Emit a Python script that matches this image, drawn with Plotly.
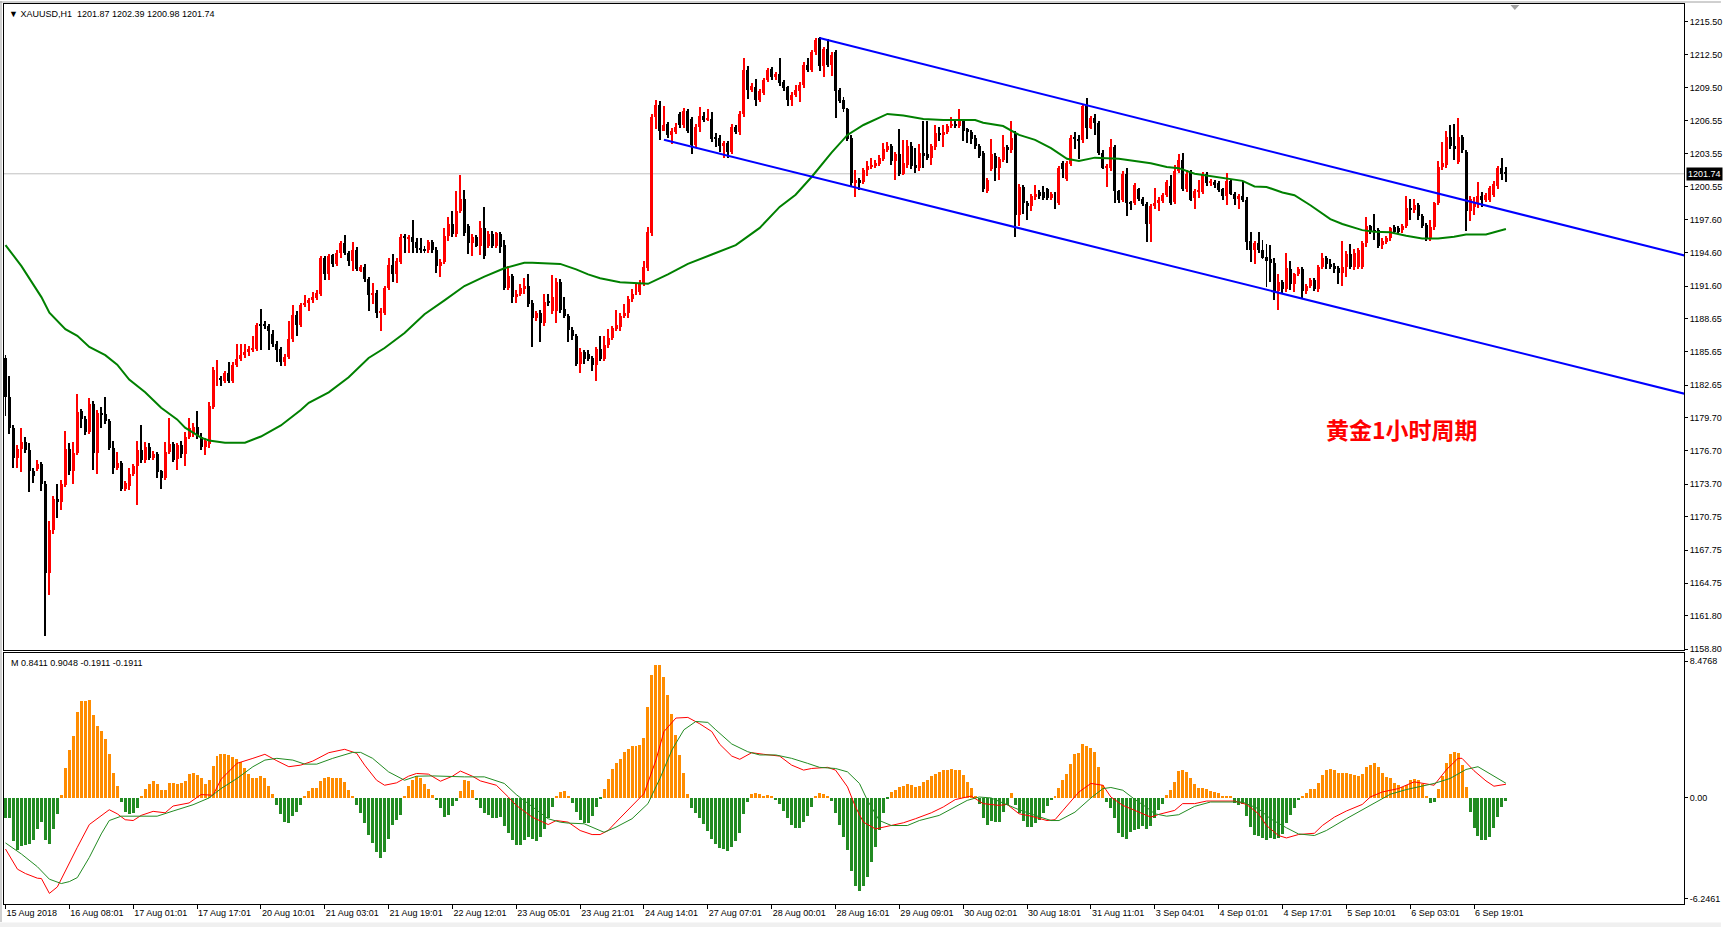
import plotly.graph_objects as go

# ---------------- data ----------------
symbol = "XAUUSD,H1"
note_text = "黄金1小时周期"

opens = [
1185.1,1181.6,1178.8,1176.1,1176.9,1177.5,1176.8,1174.9,1175.1,1175.5,
1173.7,1165.7,1169.6,1172.4,1172.1,1173.6,1176.9,1174.9,1176.5,1180.3,
1179.6,1178.4,1180.9,1176.5,1180.1,1180.0,1179.4,1177.0,1175.2,1175.6,
1173.3,1173.5,1174.6,1175.3,1176.8,1175.9,1177.1,1176.1,1176.4,1174.9,
1174.3,1176.6,1177.3,1176.0,1177.2,1176.4,1178.0,1178.3,1178.9,1178.0,
1177.1,1177.3,1180.7,1183.9,1183.3,1183.0,1183.7,1183.0,1184.5,1185.0,
1185.4,1185.6,1185.8,1185.9,1188.2,1188.1,1188.0,1187.3,1186.4,1185.9,
1184.7,1185.2,1186.8,1189.0,1188.1,1189.9,1190.1,1190.3,1190.5,1190.9,
1194.1,1192.7,1194.4,1193.6,1194.6,1195.5,1194.6,1193.9,1194.9,1193.0,
1193.3,1192.2,1190.8,1191.0,1189.2,1189.2,1191.4,1193.5,1192.7,1193.8,
1196.1,1195.9,1196.0,1195.6,1195.0,1194.9,1194.9,1195.6,1194.9,1193.4,
1193.8,1196.1,1197.2,1196.3,1198.4,1199.5,1197.0,1195.5,1196.0,1195.2,
1196.8,1195.2,1196.3,1195.2,1196.3,1195.3,1191.4,1192.5,1190.6,1190.9,
1191.3,1191.6,1190.1,1188.7,1189.2,1188.3,1190.2,1189.3,1189.3,1192.0,
1189.5,1188.9,1187.6,1187.1,1184.6,1185.6,1185.5,1185.1,1184.5,1185.9,
1185.05,1186.3,1186.9,1187.7,1187.9,1188.9,1189.15,1190.45,1190.9,1191.05,
1191.9,1193.2,1196.4,1206.9,1208.0,1205.65,1206.2,1205.2,1205.5,1207.1,
1206.15,1207.4,1206.7,1204.35,1206.0,1207.0,1206.6,1206.7,1205.0,1205.0,
1204.25,1204.5,1203.75,1206.0,1205.5,1207.1,1211.1,1209.3,1209.55,1208.4,
1209.05,1210.2,1211.25,1210.45,1210.8,1210.0,1209.55,1208.4,1208.9,1209.2,
1209.75,1211.55,1211.1,1212.7,1214.0,1211.45,1213.0,1211.55,1212.7,1209.3,
1208.4,1207.55,1205.0,1200.95,1201.2,1201.0,1202.05,1202.35,1202.45,1202.6,
1203.1,1203.85,1204.25,1202.9,1203.5,1201.75,1202.5,1204.25,1202.5,1202.25,
1203.6,1203.5,1203.2,1204.15,1205.45,1205.25,1205.5,1206.05,1206.25,1206.05,
1206.5,1205.75,1205.55,1205.0,1204.25,1203.6,1200.2,1202.2,1203.35,1202.25,
1203.0,1204.15,1203.85,1205.4,1198.05,1200.55,1199.1,1198.8,1199.6,1200.05,
1200.05,1200.35,1199.55,1199.95,1199.1,1202.7,1201.3,1202.6,1205.0,1204.9,
1204.75,1208.05,1205.85,1206.8,1206.35,1203.65,1202.25,1202.25,1204.15,1200.15,
1199.4,1201.7,1199.2,1199.1,1200.35,1199.5,1199.05,1197.2,1198.8,1199.1,
1199.3,1199.8,1200.65,1199.2,1201.95,1203.0,1200.35,1201.95,1199.55,1200.05,
1200.05,1201.7,1200.95,1201.0,1200.95,1200.35,1199.7,1201.1,1199.95,1199.5,
1199.7,1199.4,1195.7,1194.85,1195.5,1194.85,1194.25,1194.0,1193.7,1191.15,
1191.95,1191.3,1193.1,1191.8,1192.65,1193.1,1191.15,1191.6,1192.1,1191.3,
1193.35,1194.15,1193.6,1193.4,1193.2,1192.75,1193.35,1194.45,1193.35,1193.35,
1193.35,1195.5,1197.0,1196.65,1196.65,1195.3,1195.6,1195.9,1196.9,1196.85,
1196.65,1197.0,1198.65,1198.45,1198.9,1197.95,1197.15,1195.9,1196.9,1199.1,
1202.35,1202.55,1205.1,1204.25,1202.85,1205.1,1203.75,1198.35,1198.75,1199.1,
1199.7,1199.4,1199.4,1199.85,1200.65,1202.25,1201.87]

highs = [
1185.4,1183.5,1179.0,1177.2,1178.8,1178.0,1177.4,1175.2,1175.9,1175.7,
1174.0,1170.4,1172.6,1173.7,1174.1,1178.5,1177.4,1177.5,1181.8,1180.5,
1179.9,1181.5,1181.2,1180.4,1180.7,1181.6,1179.6,1177.6,1176.6,1175.8,
1174.0,1175.2,1175.5,1177.6,1179.0,1177.5,1177.4,1176.7,1176.6,1175.0,
1177.5,1179.7,1177.5,1177.4,1177.6,1178.4,1179.7,1179.2,1180.3,1178.3,
1177.9,1181.1,1184.3,1184.9,1183.5,1183.9,1184.7,1184.7,1186.4,1186.4,
1186.4,1186.2,1187.1,1188.3,1189.5,1188.4,1188.2,1187.6,1186.6,1186.1,
1185.5,1188.4,1189.9,1189.3,1190.1,1190.8,1190.5,1191.1,1191.2,1194.3,
1194.3,1194.5,1194.5,1194.9,1195.7,1196.2,1194.8,1195.6,1195.1,1193.5,
1193.6,1192.4,1191.9,1191.2,1189.6,1191.6,1194.1,1194.5,1194.1,1196.3,
1196.3,1196.2,1197.6,1195.9,1195.9,1195.2,1195.8,1195.8,1195.1,1194.0,
1196.8,1197.8,1198.4,1200.2,1201.6,1200.3,1197.2,1196.3,1196.2,1197.5,
1198.7,1196.6,1196.6,1196.5,1196.5,1195.8,1193.4,1192.7,1191.2,1191.8,
1192.3,1192.7,1190.3,1189.3,1189.4,1190.9,1190.9,1192.6,1192.3,1192.2,
1190.6,1189.1,1187.9,1187.3,1186.0,1185.8,1185.8,1185.3,1186.1,1187.1,
1187.1,1187.7,1188.0,1189.4,1189.2,1190.0,1190.7,1191.3,1191.9,1192.1,
1193.9,1196.9,1207.1,1208.4,1208.3,1207.85,1206.4,1205.9,1206.3,1207.3,
1207.65,1207.55,1206.9,1206.2,1207.8,1207.3,1207.55,1207.3,1205.4,1205.2,
1204.7,1204.7,1206.2,1206.15,1207.4,1212.2,1211.45,1209.9,1210.3,1209.4,
1210.4,1211.3,1211.35,1210.95,1212.2,1210.2,1209.7,1209.1,1209.75,1210.0,
1211.8,1212.2,1212.9,1214.0,1214.1,1213.2,1213.9,1212.7,1212.9,1209.5,
1208.7,1207.7,1205.2,1202.1,1201.4,1202.3,1202.9,1203.2,1203.0,1203.4,
1204.5,1204.6,1204.4,1203.7,1205.75,1204.8,1204.8,1204.6,1204.1,1204.4,
1206.5,1206.5,1204.4,1206.15,1206.0,1206.15,1206.2,1206.9,1206.5,1207.55,
1206.7,1205.9,1205.7,1205.2,1204.4,1203.8,1201.4,1204.9,1203.6,1203.3,
1205.25,1204.3,1206.5,1205.6,1200.8,1200.7,1199.3,1199.9,1200.7,1200.3,
1200.65,1200.45,1200.1,1200.1,1202.4,1202.9,1202.9,1205.2,1205.5,1205.25,
1208.0,1208.55,1207.0,1207.15,1206.5,1203.9,1202.6,1204.9,1204.3,1200.3,
1201.95,1202.25,1199.3,1200.9,1200.5,1199.6,1199.2,1199.0,1200.45,1199.6,
1200.0,1201.2,1201.6,1202.55,1203.5,1203.6,1202.05,1202.1,1200.4,1201.2,
1201.9,1201.9,1201.3,1201.2,1201.1,1200.5,1201.8,1201.3,1200.1,1199.9,
1201.1,1199.6,1196.5,1195.7,1196.45,1195.75,1195.4,1195.3,1194.15,1192.65,
1192.1,1194.55,1193.85,1192.8,1193.35,1193.3,1191.8,1192.3,1192.3,1193.5,
1194.55,1194.35,1194.0,1193.7,1193.4,1195.7,1194.75,1195.4,1194.95,1195.0,
1195.7,1197.8,1197.15,1198.15,1196.8,1195.9,1196.1,1196.95,1197.1,1197.0,
1197.2,1199.7,1199.5,1199.5,1199.1,1198.1,1197.3,1197.6,1199.2,1202.9,
1204.6,1205.65,1206.15,1206.25,1206.8,1205.2,1203.9,1199.7,1199.6,1201.0,
1200.05,1200.0,1200.65,1201.1,1202.4,1203.2,1202.39]

lows = [
1179.9,1178.2,1175.2,1175.2,1174.8,1176.5,1173.0,1173.8,1174.9,1173.1,
1160.0,1163.7,1169.2,1170.6,1171.4,1173.4,1174.5,1173.7,1176.3,1178.8,
1178.1,1178.2,1175.0,1174.6,1178.8,1179.1,1176.8,1174.6,1175.0,1173.1,
1173.1,1173.2,1174.4,1171.8,1175.6,1175.6,1175.9,1175.9,1174.3,1173.3,
1174.1,1176.4,1175.7,1175.0,1176.1,1175.3,1177.8,1178.0,1177.8,1176.8,
1176.3,1177.0,1180.5,1182.6,1182.6,1182.8,1182.8,1182.8,1184.3,1184.8,
1185.1,1185.3,1185.6,1185.7,1185.8,1187.7,1185.8,1186.1,1184.7,1184.4,
1184.4,1185.0,1186.5,1187.1,1187.9,1189.7,1189.3,1190.1,1190.3,1190.7,
1192.1,1192.1,1193.3,1193.4,1194.1,1194.4,1193.4,1193.0,1193.0,1192.9,
1192.0,1189.3,1190.0,1188.7,1187.5,1189.0,1191.2,1192.0,1191.9,1193.6,
1194.6,1194.6,1194.6,1194.6,1194.6,1194.6,1194.6,1194.6,1192.8,1192.4,
1193.6,1195.7,1196.0,1196.0,1198.2,1196.1,1194.5,1194.3,1195.1,1194.4,
1194.0,1195.0,1195.0,1195.0,1194.6,1191.2,1191.2,1190.1,1190.1,1190.7,
1190.9,1189.7,1186.1,1188.4,1186.5,1188.0,1189.8,1189.1,1188.3,1189.2,
1188.7,1186.5,1186.7,1184.4,1183.7,1184.6,1184.8,1183.9,1183.0,1184.8,
1184.8,1186.0,1186.7,1187.5,1187.5,1188.7,1188.7,1190.2,1190.8,1190.8,
1191.6,1193.0,1196.1,1205.8,1204.8,1205.6,1205.0,1204.4,1205.3,1205.9,
1205.9,1205.4,1203.5,1204.1,1205.5,1206.4,1206.5,1204.6,1204.2,1203.75,
1203.2,1203.2,1203.5,1205.3,1205.2,1206.9,1208.5,1209.1,1207.9,1208.2,
1208.9,1210.0,1210.2,1210.2,1209.7,1209.2,1207.9,1207.9,1208.7,1208.2,
1209.5,1210.9,1210.9,1212.5,1211.0,1210.5,1211.4,1210.6,1206.8,1208.1,
1207.3,1204.7,1200.6,1199.6,1200.25,1200.8,1201.5,1202.2,1202.3,1202.4,
1202.9,1203.7,1202.5,1201.2,1201.5,1201.6,1202.3,1202.2,1201.85,1202.0,
1202.25,1203.0,1202.5,1203.9,1204.7,1204.15,1205.3,1205.9,1205.85,1205.9,
1204.7,1204.5,1204.45,1203.95,1203.2,1200.05,1200.0,1202.0,1201.1,1201.2,
1202.8,1202.7,1203.6,1196.05,1197.0,1198.15,1197.6,1198.4,1199.4,1199.5,
1199.4,1199.4,1199.4,1198.55,1198.9,1201.4,1201.1,1202.4,1203.95,1203.1,
1204.5,1204.9,1205.75,1205.25,1203.4,1202.15,1200.55,1202.0,1199.1,1199.1,
1199.2,1197.9,1198.45,1198.9,1199.3,1198.8,1195.6,1195.6,1198.6,1198.35,
1199.1,1199.6,1198.9,1199.0,1201.8,1200.15,1200.1,1199.3,1198.55,1199.55,
1199.9,1200.65,1200.65,1200.5,1200.05,1199.4,1198.9,1199.8,1198.9,1198.55,
1199.2,1194.85,1193.8,1193.6,1194.6,1194.0,1191.5,1191.95,1190.3,1189.4,
1190.95,1191.1,1191.2,1191.1,1192.5,1190.55,1190.9,1191.4,1191.15,1191.1,
1193.1,1193.1,1193.1,1192.75,1191.8,1191.6,1192.45,1193.1,1193.05,1193.1,
1193.1,1195.1,1196.3,1195.75,1195.0,1194.95,1195.4,1195.7,1196.3,1196.3,
1196.4,1196.8,1197.6,1198.2,1197.6,1196.8,1195.7,1195.7,1196.7,1198.9,
1202.1,1202.3,1204.0,1203.0,1202.6,1203.6,1196.55,1197.5,1198.05,1198.65,
1198.75,1199.2,1199.2,1199.6,1200.4,1201.2,1200.98]

closes = [
1181.6,1178.8,1176.1,1176.9,1177.5,1176.8,1174.9,1174.4,1175.5,1173.7,
1165.7,1169.6,1172.4,1172.1,1173.7,1176.9,1174.9,1176.5,1180.2,1179.6,
1178.4,1180.9,1176.5,1180.1,1180.0,1179.4,1177.0,1175.2,1175.6,1173.3,
1173.8,1174.6,1175.3,1176.8,1175.9,1177.1,1176.1,1176.4,1174.8,1174.3,
1176.6,1177.3,1175.9,1177.2,1176.4,1178.0,1178.8,1178.9,1178.0,1177.1,
1177.6,1180.8,1184.0,1184.0,1183.1,1183.7,1183.0,1184.5,1185.0,1185.4,
1185.6,1185.9,1186.0,1188.1,1188.0,1188.0,1187.5,1186.4,1185.8,1184.7,
1185.2,1186.8,1189.0,1188.1,1189.9,1190.1,1190.3,1190.6,1191.0,1194.1,
1192.7,1194.3,1193.6,1194.6,1195.5,1194.6,1193.9,1194.9,1193.1,1193.3,
1192.2,1190.8,1191.0,1189.2,1189.3,1191.4,1193.5,1192.7,1193.9,1196.0,
1195.9,1196.0,1195.6,1195.0,1194.9,1194.85,1195.6,1194.9,1193.4,1193.8,
1196.1,1197.2,1196.3,1198.4,1199.5,1196.4,1195.5,1196.0,1195.2,1196.8,
1194.3,1196.3,1195.2,1196.4,1195.1,1191.4,1192.5,1190.6,1190.9,1191.4,
1191.6,1190.0,1188.7,1189.2,1188.3,1190.2,1190.1,1190.6,1192.0,1189.4,
1188.9,1187.6,1187.1,1184.6,1185.6,1185.0,1185.05,1184.5,1185.9,1185.05,
1186.3,1186.9,1187.8,1188.1,1188.9,1189.2,1190.45,1190.9,1191.1,1191.9,
1193.3,1196.45,1206.9,1208.0,1205.65,1206.15,1205.2,1205.65,1206.0,1206.15,
1207.4,1205.65,1204.35,1206.0,1207.0,1206.6,1206.7,1204.9,1204.9,1204.25,
1204.5,1203.75,1206.0,1205.5,1207.15,1211.1,1209.3,1209.65,1208.4,1209.2,
1210.2,1211.1,1210.45,1210.8,1209.95,1209.45,1208.4,1208.9,1209.35,1209.8,
1211.55,1211.1,1212.7,1213.85,1211.45,1213.0,1211.55,1212.5,1209.2,1208.3,
1207.55,1204.9,1200.95,1201.2,1200.95,1202.05,1202.45,1202.55,1202.7,1203.2,
1203.95,1204.25,1202.9,1203.5,1201.75,1202.7,1204.25,1202.45,1202.25,1203.65,
1203.35,1203.2,1204.25,1205.45,1205.2,1205.55,1206.05,1206.25,1206.05,1206.5,
1205.65,1205.55,1204.9,1204.25,1203.35,1200.35,1201.2,1203.5,1202.25,1203.1,
1204.15,1203.85,1205.0,1198.05,1200.55,1199.1,1198.8,1199.7,1199.95,1199.7,
1199.55,1199.55,1199.95,1199.1,1202.25,1202.15,1202.7,1205.0,1204.9,1204.75,
1207.85,1205.85,1206.8,1206.35,1203.6,1202.25,1202.45,1204.15,1200.15,1199.4,
1201.7,1199.1,1199.1,1200.7,1199.5,1199.05,1197.2,1198.8,1199.1,1199.4,
1199.8,1201.0,1199.1,1201.95,1203.0,1200.35,1201.75,1199.4,1200.15,1200.25,
1201.7,1200.95,1201.1,1200.7,1200.25,1199.7,1201.1,1199.95,1199.5,1199.7,
1199.4,1195.6,1194.85,1195.5,1194.85,1194.15,1193.85,1193.7,1191.15,1191.95,
1191.3,1193.2,1191.8,1192.65,1193.1,1191.15,1191.6,1192.1,1191.3,1193.35,
1194.1,1193.6,1193.35,1193.1,1192.75,1193.35,1194.45,1193.35,1194.55,1194.85,
1195.5,1197.0,1196.5,1196.5,1195.25,1195.7,1195.9,1196.85,1196.5,1196.5,
1197.0,1198.65,1198.45,1198.9,1197.95,1197.0,1195.9,1196.9,1199.1,1202.35,
1202.7,1205.1,1204.25,1204.0,1205.1,1203.85,1198.35,1199.5,1199.2,1199.7,
1199.4,1199.8,1200.45,1200.8,1202.25,1201.75,1201.74]

# moving average (green line), sampled along the bars
ma_bar = [0,4,9,11,15,18,21,25,28,31,35,39,43,45,49,51,55,60,64,69,74,76,81,86,91,95,100,105,110,115,
          120,125,130,132,139,143,146,149,154,159,161,166,171,177,183,189,194,198,202,207,211,215,219,221,225,
          230,235,243,245,250,254,258,262,266,269,273,279,283,287,291,294,298,304,310,313,316,320,323,327,332,
          335,340,343,347,351,355,359,363,366,371,376]
ma_val = [1195.3,1193.4,1190.6,1189.2,1187.7,1187.1,1186.1,1185.35,1184.5,1183.15,1182.0,1180.6,1179.55,1178.8,
          1177.9,1177.65,1177.45,1177.45,1178.0,1179.0,1180.4,1181.05,1182.0,1183.35,1185.1,1186.0,1187.35,1189.05,
          1190.3,1191.6,1192.45,1193.2,1193.7,1193.7,1193.6,1193.1,1192.65,1192.3,1191.95,1191.8,1191.8,1192.65,
          1193.6,1194.45,1195.3,1196.85,1198.75,1199.85,1201.45,1203.65,1205.25,1206.15,1206.8,1207.15,1207.0,
          1206.7,1206.6,1206.6,1206.35,1206.05,1205.25,1204.8,1204.05,1203.1,1202.9,1203.2,1203.1,1202.9,1202.7,
          1202.35,1202.25,1201.75,1201.4,1201.1,1200.6,1200.55,1200.05,1199.8,1198.9,1197.65,1197.2,1196.65,
          1196.5,1196.45,1196.15,1195.9,1195.9,1196.05,1196.25,1196.25,1196.75]

# channel trend lines: (bar, price) anchors
upper_line_bar = [204, 420.75]
upper_line_price = [1214.0, 1194.36]
lower_line_bar = [165, 420.75]
lower_line_price = [1204.81, 1181.87]

# oscillator histogram (one value per bar)
osc_hist = [
-1.26,-1.3,-2.7,-3.24,-3.03,-2.97,-2.86,-2.61,-1.93,-1.51,-2.65,-2.86,-1.93,-1.05,
0.14,1.86,2.93,3.84,5.30,5.99,5.99,6.05,5.11,4.47,4.11,3.66,2.72,1.51,0.72,
-0.26,-0.89,-1.05,-0.99,-0.68,
0.05,0.53,0.84,1.03,0.82,0.47,0.47,0.93,0.93,0.84,0.93,1.05,1.43,1.51,1.40,1.22,0.82,1.09,1.93,2.59,
2.70,2.70,2.64,2.49,2.39,2.18,1.82,1.47,1.24,1.24,1.34,1.24,0.72,0.22,
-0.47,-1.05,-1.51,-1.57,-1.16,-0.89,-0.47,
0.05,0.41,0.57,0.61,1.03,1.20,1.26,1.24,1.20,1.20,0.99,0.47,0.11,
-0.47,-0.99,-1.61,-2.30,-2.82,-3.39,-3.74,-3.39,-2.55,-1.68,-1.40,-1.09,
0.05,0.72,1.09,1.34,1.20,0.82,0.51,0.16,
-0.16,-0.68,-1.20,-1.09,-0.53,-0.20,
0.41,1.09,1.03,0.47,
-0.16,-0.68,-0.93,-1.09,-1.24,-1.30,-1.20,-1.76,-2.20,-2.61,-2.93,-2.93,-2.61,-2.45,-2.55,-2.70,-2.45,-1.93,-1.26,-0.57,
0.05,0.36,0.41,0.11,
-0.32,-0.89,
-1.40,-1.61,-1.57,-1.14,-0.61,-0.11,
0.53,1.14,1.78,2.14,2.41,2.80,3.03,3.18,3.22,3.28,3.70,5.64,7.59,8.24,8.24,7.45,6.36,5.16,3.91,2.66,1.51,0.22,
-0.68,-0.99,-1.24,-1.66,-2.07,-2.55,-2.86,-3.11,-3.20,-3.32,-3.07,-2.72,-2.20,-1.03,-0.26,
0.22,0.30,0.20,0.11,0.16,0.05,
-0.16,-0.41,-0.82,-1.30,-1.72,-1.86,-1.89,-1.51,-1.14,-0.57,
0.11,0.30,0.20,0.09,
-0.20,-0.95,-1.72,-2.45,-3.28,-4.53,-5.47,-5.82,-5.47,-4.91,-4.01,-3.07,-2.03,-0.99,-0.09,
0.36,0.47,0.64,0.72,0.84,0.78,0.68,0.72,0.99,1.09,1.34,1.45,1.57,1.68,1.72,1.76,1.72,1.68,1.41,0.99,0.61,0.11,
-0.41,-1.26,-1.72,-1.45,-1.51,-1.51,-0.89,-0.47,
0.30,
-0.47,-0.99,-1.47,-1.82,-1.82,-1.61,-1.41,-0.93,-0.51,-0.16,
0.05,0.61,1.09,1.47,2.07,2.70,2.76,3.32,3.18,3.07,2.80,1.89,0.78,
-0.26,-0.68,-1.30,-2.20,-2.45,-2.55,-2.14,-2.03,
-1.93,-1.76,-1.93,-1.78,-1.30,-0.78,-0.41,
0.16,0.47,0.99,1.66,1.72,1.61,1.24,0.82,0.61,0.61,0.51,0.43,0.32,0.26,0.11,0.11,0.05,
-0.36,-0.47,-0.41,-1.14,-1.82,-2.34,-2.41,-2.49,-2.61,-2.49,-2.55,-2.49,-2.24,-1.57,-1.09,-0.68,-0.16,
0.09,0.26,0.51,0.53,0.89,1.41,1.68,1.76,1.68,1.55,1.55,1.55,1.47,1.41,1.34,1.45,1.89,2.03,2.14,1.89,
1.55,1.26,1.20,0.93,0.78,0.68,0.78,1.09,1.14,1.09,0.84,0.11,
-0.32,-0.26,
0.51,1.34,2.14,2.70,2.82,2.76,2.03,0.68,
-0.89,-1.89,-2.41,-2.61,-2.61,-2.45,-1.89,-1.20,-0.57,-0.1911]

# oscillator signal lines (red and green), sampled along the bars
red_bar = [0,3,5,8,9,11,13,15,18,21,23,26,28,30,32,34,37,40,42,46,49,52,54,58,62,65,68,71,74,77,81,85,88,90,93,95,98,
           101,103,106,109,112,114,117,119,123,126,128,132,136,138,141,144,147,149,151,153,156,160,163,165,168,171,
           174,177,179,182,184,187,190,194,197,200,202,206,208,211,213,215,218,221,225,228,232,235,238,242,245,249,
           251,254,257,261,263,265,269,272,275,277,280,283,287,289,293,295,298,301,304,308,311,314,316,319,321,324,
           328,330,333,336,340,342,345,349,353,356,358,361,364,365,368,371,373,376]
red_val = [-3.18,-4.43,-4.70,-4.99,-5.01,-5.93,-5.53,-4.53,-3.07,-1.66,-1.30,-0.74,-0.99,-1.36,-1.41,-1.09,-0.84,-0.93,
           -0.51,-0.32,0.20,0.16,1.14,2.14,2.45,2.70,2.30,1.93,2.03,2.28,2.80,3.01,2.76,2.03,1.09,0.78,0.93,1.34,1.51,
           1.47,1.03,1.34,1.66,1.34,1.05,0.78,0.05,-0.47,-1.20,-1.66,-1.41,-1.51,-2.03,-2.28,-2.28,-2.03,-1.51,-0.74,
           0.26,2.34,4.11,4.95,4.99,4.59,4.11,3.32,2.59,2.39,2.80,2.70,2.59,2.03,1.72,1.82,1.89,1.72,0.68,-0.57,-1.51,
           -1.93,-1.78,-1.55,-1.30,-0.93,-0.57,-0.11,0.11,-0.36,-0.47,-0.41,-0.99,-1.14,-1.41,-1.36,-0.78,0.36,0.89,
           0.78,0.05,-0.47,-0.78,-1.20,-1.03,-0.78,-0.36,-0.36,-0.20,-0.20,-0.20,-0.41,-0.99,-1.72,-2.34,-2.49,-2.28,
           -2.20,-1.72,-1.20,-0.82,-0.41,0.05,0.36,0.57,0.99,0.89,0.78,1.72,2.45,2.45,1.68,1.05,0.72,0.8411]
grn_bar = [0,4,8,11,14,16,18,21,24,26,29,32,38,42,47,51,54,58,62,65,68,72,75,78,82,87,89,92,96,100,103,107,112,115,
           120,125,128,132,136,139,141,145,150,153,157,161,164,167,170,173,176,178,182,186,189,193,197,201,204,208,
           211,214,216,219,222,226,229,234,238,241,244,247,251,254,258,262,264,268,272,275,277,280,283,286,288,291,
           294,298,302,306,310,314,317,321,324,328,331,336,340,344,347,351,355,358,362,366,369,372,376]
grn_val = [-2.80,-3.49,-4.28,-5.05,-5.32,-5.20,-4.95,-3.70,-2.24,-1.41,-1.14,-1.14,-1.14,-0.82,-0.43,-0.01,0.57,1.20,
           1.93,2.34,2.45,2.34,2.09,2.09,2.45,2.82,2.82,2.45,1.61,1.09,1.34,1.36,1.30,1.30,1.30,0.89,0.20,-0.57,-1.30,
           -1.51,-1.57,-1.61,-2.14,-1.82,-1.30,-0.36,1.20,2.97,4.22,4.74,4.68,4.22,3.34,2.86,2.66,2.66,2.45,2.14,1.89,
           1.82,1.61,0.89,-0.16,-1.41,-1.72,-1.72,-1.41,-1.09,-0.57,-0.16,0.05,-0.01,-0.43,-0.74,-1.09,-1.41,-1.41,
           -0.89,-0.01,0.57,0.64,0.47,-0.10,-0.60,-0.99,-1.14,-1.05,-0.53,-0.26,-0.26,-0.26,-0.68,-1.30,-1.86,-2.24,
           -2.34,-2.03,-1.30,-0.74,-0.16,0.22,0.51,0.72,0.89,1.20,1.76,1.93,1.51,0.9048]

# axis labels
time_labels = ["15 Aug 2018", "16 Aug 08:01", "17 Aug 01:01", "17 Aug 17:01", "20 Aug 10:01", "21 Aug 03:01",
               "21 Aug 19:01", "22 Aug 12:01", "23 Aug 05:01", "23 Aug 21:01", "24 Aug 14:01", "27 Aug 07:01",
               "28 Aug 00:01", "28 Aug 16:01", "29 Aug 09:01", "30 Aug 02:01", "30 Aug 18:01", "31 Aug 11:01",
               "3 Sep 04:01", "4 Sep 01:01", "4 Sep 17:01", "5 Sep 10:01", "6 Sep 03:01", "6 Sep 19:01"]
time_label_step = 16
price_ticks = [1215.50, 1212.50, 1209.50, 1206.55, 1203.55, 1200.55, 1197.60, 1194.60, 1191.60, 1188.65,
               1185.65, 1182.65, 1179.70, 1176.70, 1173.70, 1170.75, 1167.75, 1164.75, 1161.80, 1158.80]
osc_max_label = 8.4768
osc_min_label = -6.2461

# ---------------- figure ----------------
n = len(closes)
assert len(opens) == n and len(highs) == n and len(lows) == n and len(osc_hist) == n
idx = list(range(n))

BULL, BEAR = "#FF0000", "#000000"
cand_col = [BULL if c >= o else BEAR for o, c in zip(opens, closes)]
body_base = [min(o, c) for o, c in zip(opens, closes)]
body_len = [max(abs(c - o), 0.09) for o, c in zip(opens, closes)]
wick_len = [h - l for h, l in zip(highs, lows)]

fig = go.Figure()
fig.add_trace(go.Bar(x=idx, y=wick_len, base=lows, width=0.25,
                     marker=dict(color=cand_col, line=dict(width=0)), xaxis="x", yaxis="y"))
fig.add_trace(go.Bar(x=idx, y=body_len, base=body_base, width=0.75,
                     marker=dict(color=cand_col, line=dict(width=0)), xaxis="x", yaxis="y"))
fig.add_trace(go.Scatter(x=ma_bar, y=ma_val, mode="lines", line=dict(color="#008000", width=2),
                         xaxis="x", yaxis="y"))
fig.add_trace(go.Scatter(x=upper_line_bar, y=upper_line_price, mode="lines",
                         line=dict(color="#0000FF", width=2), xaxis="x", yaxis="y"))
fig.add_trace(go.Scatter(x=lower_line_bar, y=lower_line_price, mode="lines",
                         line=dict(color="#0000FF", width=2), xaxis="x", yaxis="y"))

hist_col = ["#FF8C00" if v >= 0 else "#228B22" for v in osc_hist]
fig.add_trace(go.Bar(x=idx, y=osc_hist, width=0.75, marker=dict(color=hist_col, line=dict(width=0)),
                     xaxis="x2", yaxis="y2"))
fig.add_trace(go.Scatter(x=red_bar, y=red_val, mode="lines", line=dict(color="#FF0000", width=1),
                         xaxis="x2", yaxis="y2"))
fig.add_trace(go.Scatter(x=grn_bar, y=grn_val, mode="lines", line=dict(color="#228B22", width=1),
                         xaxis="x2", yaxis="y2"))

W, H = 1725, 927
ML, MR, MT, MB = 4, 37, 3, 23
PW, PH = W - ML - MR, H - MT - MB
main_bottom_px, sub_top_px = 650, 653
dom_main = [(H - MB - main_bottom_px) / PH, 1.0]
dom_sub = [0.0, (H - MB - sub_top_px) / PH]


def px_x(p):  # pixel column -> paper x
    return (p - ML) / PW


def px_y(p):  # pixel row -> paper y
    return (H - MB - p) / PH


tick_font = dict(family="Liberation Sans, Arial, sans-serif", size=9, color="black")
xr = [-0.375, 420.625]

fig.update_layout(
    width=W, height=H, margin=dict(l=ML, r=MR, t=MT, b=MB),
    paper_bgcolor="white", plot_bgcolor="white", showlegend=False, hovermode=False,
    barmode="overlay", bargap=0,
    xaxis=dict(domain=[0, 1], range=xr, anchor="y", showticklabels=False, ticks="",
               showgrid=False, zeroline=False, showline=True, mirror=True, linecolor="black", linewidth=1),
    yaxis=dict(domain=dom_main, range=[1158.69, 1217.08], side="right", anchor="x",
               tickvals=price_ticks, ticktext=["%.2f" % v for v in price_ticks],
               ticks="outside", ticklen=3, tickcolor="black", tickfont=tick_font,
               showgrid=False, zeroline=False, showline=True, mirror=True, linecolor="black", linewidth=1),
    xaxis2=dict(domain=[0, 1], range=xr, anchor="y2", matches="x",
                tickvals=[k * time_label_step for k in range(len(time_labels))], ticktext=time_labels,
                ticks="outside", ticklen=4, tickcolor="black", tickfont=tick_font,
                ticklabelposition="outside right",
                showgrid=False, zeroline=False, showline=True, mirror=True, linecolor="black", linewidth=1),
    yaxis2=dict(domain=dom_sub, range=[-6.59, 8.97], side="right", anchor="x2",
                tickvals=[osc_max_label, 0, osc_min_label],
                ticktext=["%.4f" % osc_max_label, "0.00", "%.4f" % osc_min_label],
                ticks="outside", ticklen=3, tickcolor="black", tickfont=tick_font,
                showgrid=False, zeroline=False, showline=True, mirror=True, linecolor="black", linewidth=1),
)

last_close = closes[-1]
fig.add_shape(type="line", xref="paper", x0=0, x1=1, yref="y", y0=last_close, y1=last_close,
              line=dict(color="#C0C0C0", width=1), layer="below")
# chart-shift marker (small grey triangle at the top)
fig.add_shape(type="path", xref="paper", yref="paper",
              path="M %.4f %.4f L %.4f %.4f L %.4f %.4f Z" % (px_x(1514), px_y(4), px_x(1523), px_y(4),
                                                             px_x(1518.5), px_y(9)),
              fillcolor="#A0A0A0", line=dict(width=0))
# window frame: grey outer edge and light grey strip at the bottom
fig.add_shape(type="line", xref="paper", yref="paper", x0=px_x(1), x1=px_x(1), y0=px_y(0), y1=px_y(922),
              line=dict(color="#A0A0A0", width=1))
fig.add_shape(type="line", xref="paper", yref="paper", x0=px_x(0), x1=px_x(W), y0=px_y(1), y1=px_y(1),
              line=dict(color="#A0A0A0", width=1))
fig.add_shape(type="rect", xref="paper", yref="paper", x0=px_x(0), x1=px_x(W), y0=px_y(922.5), y1=px_y(H),
              fillcolor="#F0F0F0", line=dict(width=0))

title_txt = "▼ %s  %.2f %.2f %.2f %.2f" % (symbol, opens[-1], highs[-1], lows[-1], closes[-1])
fig.add_annotation(text=title_txt, xref="paper", yref="paper", x=0, y=px_y(12.6),
                   xanchor="left", yanchor="middle", xshift=3, showarrow=False, font=tick_font)
osc_txt = "M %.4f %.4f %.4f %.4f" % (red_val[-1], grn_val[-1], osc_hist[-1], osc_hist[-1])
fig.add_annotation(text=osc_txt, xref="paper", yref="paper", x=0, y=px_y(663),
                   xanchor="left", yanchor="middle", xshift=5, showarrow=False, font=tick_font)
fig.add_annotation(text="%.2f" % last_close, xref="paper", yref="y", x=1, y=last_close,
                   xanchor="left", yanchor="middle", xshift=2, showarrow=False,
                   bgcolor="black", borderpad=1, font=dict(family=tick_font["family"], size=9, color="white"))
fig.add_annotation(text="<b>%s</b>" % note_text, xref="paper", yref="paper",
                   x=px_x(1405), y=px_y(428),
                   xanchor="center", yanchor="middle", showarrow=False,
                   font=dict(family="Noto Sans CJK SC", size=23, color="#FF0000"))

fig.write_html("out.html")
